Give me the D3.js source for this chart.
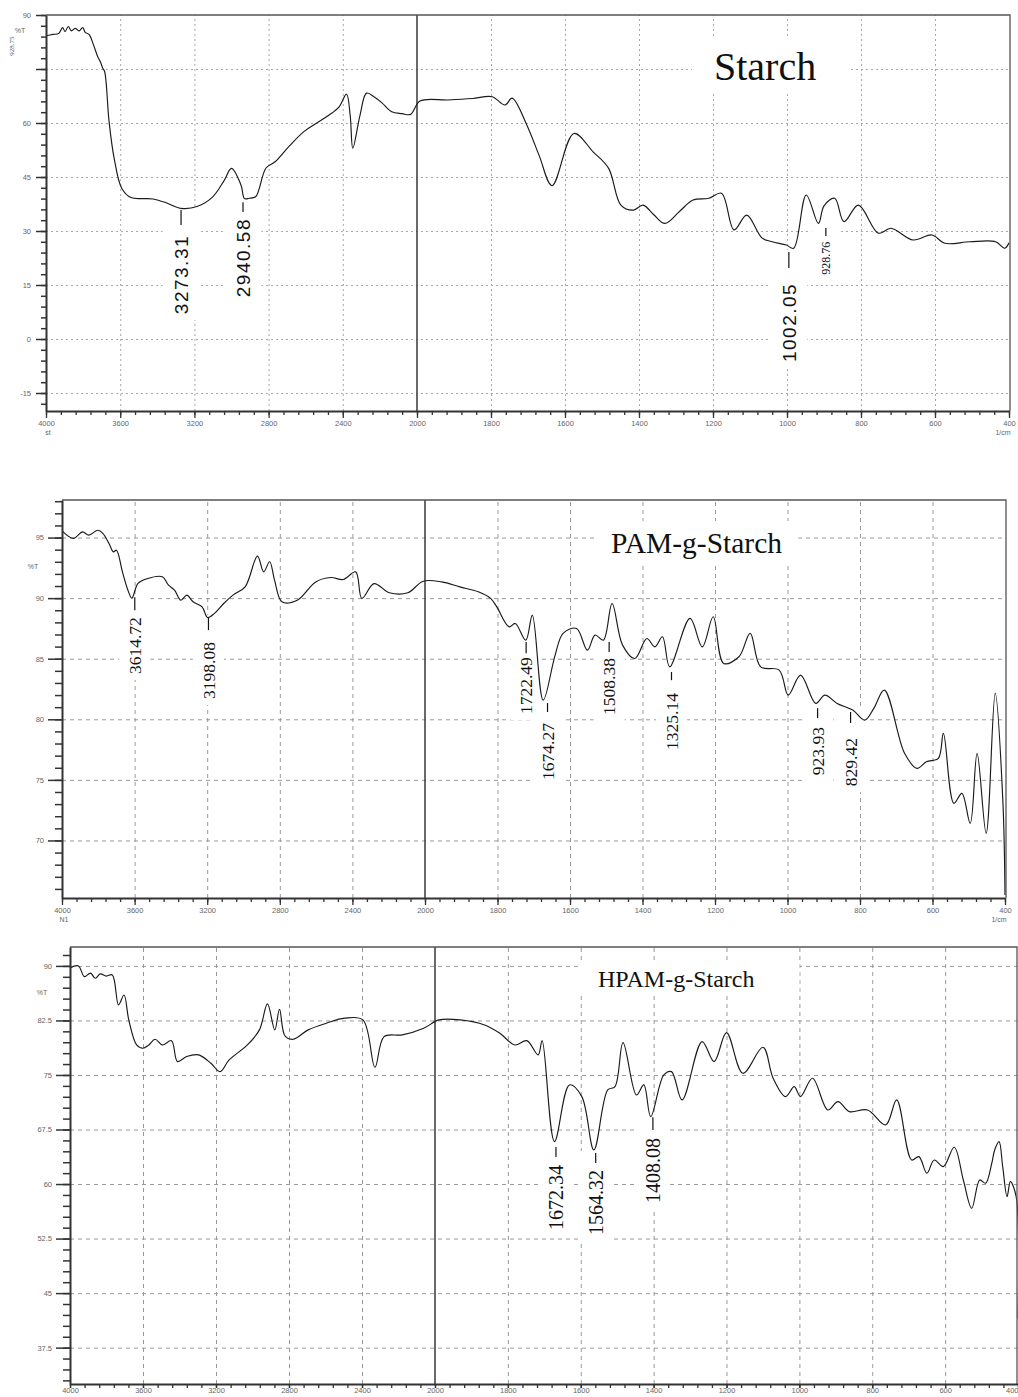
<!DOCTYPE html>
<html><head><meta charset="utf-8">
<script src="https://cdn.jsdelivr.net/npm/d3@7"></script>
<style>body{margin:0;background:#fff}</style>
</head><body><svg id="c" width="1018" height="1397"></svg>
<script>
// ---------------- DATA ----------------
const xTickLabels = [4000,3600,3200,2800,2400,2000,1800,1600,1400,1200,1000,800,600,400];
const starchYTicks = [90,75,60,45,30,15,0,-15];
const starchYTickLabels = ["90","","60","45","30","15","0","-15"];
const pamYTicks = [95,90,85,80,75,70];
const pamYTickLabels = ["95","90","85","80","75","70"];
const hpamYTicks = [90,82.5,75,67.5,60,52.5,45,37.5];
const hpamYTickLabels = ["90","82.5","75","67.5","60","52.5","45","37.5"];
const titles = ["Starch","PAM-g-Starch","HPAM-g-Starch"];

// [wavenumber (1/cm), %T]
const starchSpectrum = [[4000,84.25],[3964,84.6],[3931,84.9],[3911,86.5],[3897,85.4],[3880,86.8],[3863,85.6],[3843,86.3],[3822,85.6],[3802,86.5],[3789,85.2],[3768,84.6],[3744,81.7],[3721,78.4],[3707,77.0],[3694,75.2],[3684,74.3],[3660,60.4],[3633,50.3],[3592,41.9],[3542,39.3],[3480,39.0],[3423,38.9],[3355,37.9],[3273,36.3],[3186,36.8],[3101,39.5],[3040,44.0],[3000,47.4],[2949,42.8],[2930,39.0],[2905,39.1],[2870,39.5],[2814,47.5],[2763,49.3],[2690,53.5],[2610,57.6],[2540,60.0],[2474,62.2],[2420,64.5],[2380,68.0],[2360,62.0],[2346,53.0],[2307,62.2],[2272,68.3],[2230,67.2],[2189,65.6],[2136,63.1],[2080,62.6],[2034,62.4],[1992,66.1],[1916,66.4],[1850,66.8],[1797,67.3],[1762,65.0],[1743,66.9],[1703,59.4],[1670,51.0],[1635,42.6],[1576,57.1],[1524,52.0],[1482,47.4],[1449,37.2],[1415,35.8],[1389,37.2],[1360,34.5],[1330,32.1],[1290,35.5],[1254,38.6],[1211,39.1],[1177,40.5],[1143,30.3],[1109,34.4],[1068,28.1],[1040,27.0],[1002,26.1],[982,25.2],[948,40.0],[915,32.1],[900,37.0],[871,39.1],[846,32.6],[807,37.2],[753,29.4],[719,30.75],[659,27.5],[608,28.9],[574,26.6],[506,27.0],[436,27.0],[412,25.2],[400,26.7]];

const pamSpectrum = [[4000,95.55],[3937,94.93],[3887,95.47],[3853,95.2],[3802,95.6],[3775,95.34],[3741,94.51],[3717,93.82],[3700,93.96],[3667,92.17],[3640,90.8],[3615,90.0],[3582,91.2],[3532,91.6],[3447,91.76],[3413,91.07],[3380,90.66],[3345,89.83],[3312,90.25],[3278,89.7],[3228,89.28],[3198,88.4],[3160,88.74],[3109,89.56],[3058,90.25],[2991,90.93],[2923,93.47],[2889,92.17],[2856,93.0],[2829,91.49],[2788,89.7],[2704,89.83],[2602,91.34],[2518,91.7],[2450,91.54],[2382,92.17],[2348,89.98],[2281,91.2],[2196,90.44],[2095,90.44],[2010,91.4],[1954,91.34],[1904,90.93],[1853,90.52],[1819,89.98],[1802,89.28],[1768,87.63],[1751,87.91],[1722,86.53],[1704,88.6],[1674,81.58],[1641,85.3],[1619,87.09],[1582,87.5],[1552,85.71],[1531,86.95],[1508,86.53],[1484,89.56],[1455,86.12],[1421,85.02],[1388,86.67],[1366,85.98],[1345,86.81],[1325,84.33],[1269,88.33],[1235,85.98],[1205,88.46],[1176,84.61],[1134,85.16],[1103,87.09],[1074,84.33],[1023,84.06],[998,82.0],[964,83.65],[922,81.31],[897,82.0],[863,81.31],[820,80.76],[787,79.93],[762,80.9],[733,82.41],[677,77.19],[643,75.95],[617,76.5],[584,76.77],[570,78.84],[541,73.06],[519,73.89],[496,71.41],[477,77.19],[452,70.59],[427,82.14],[406,73.33],[400,65.5]];

const hpamSpectrum = [[4000,89.7],[3954,90.0],[3921,88.53],[3888,89.0],[3861,88.3],[3834,88.9],[3801,88.6],[3768,88.76],[3734,84.64],[3704,86.0],[3678,82.57],[3635,79.13],[3601,78.68],[3568,79.13],[3534,79.91],[3494,79.13],[3444,79.72],[3411,76.84],[3361,77.53],[3295,77.76],[3228,76.61],[3178,75.46],[3128,77.07],[3028,79.13],[2962,81.2],[2918,84.77],[2878,81.2],[2852,84.04],[2822,80.37],[2778,79.91],[2695,81.2],[2595,82.12],[2495,82.81],[2395,82.57],[2329,76.07],[2279,80.28],[2179,80.51],[2062,81.43],[1989,82.57],[1931,82.57],[1864,81.88],[1822,80.74],[1781,79.13],[1748,79.72],[1717,77.76],[1706,79.72],[1672,65.83],[1631,73.63],[1597,72.02],[1564,64.69],[1526,72.94],[1506,73.4],[1484,79.45],[1447,72.25],[1427,73.63],[1408,69.27],[1372,75.0],[1351,75.46],[1322,71.57],[1267,79.59],[1234,76.84],[1200,80.83],[1155,75.23],[1100,78.81],[1072,74.55],[1038,72.02],[1014,73.4],[997,72.02],[964,74.55],[922,70.19],[894,71.34],[863,69.96],[813,70.19],[763,68.13],[733,71.57],[692,63.31],[672,63.77],[650,61.49],[630,63.31],[605,62.39],[575,65.06],[550,60.56],[527,56.67],[505,60.56],[489,60.11],[472,62.86],[464,64.69],[452,65.83],[442,62.39],[430,58.27],[421,60.33],[405,58.27],[400,41.5]];

// peak labels: [text, wavenumber where drawn, tick start %T, tick end %T, text top %T]
const starchPeaks = [["3273.31",3272,35.8,31.7,28.9],["2940.58",2938,38.0,35.3,33.6],["1002.05",995,24.2,19.7,15.6],["928.76",895,30.8,28.6,27.0]];
const pamPeaks = [["3614.72",3599,90.08,89.0,88.43],["3198.08",3193,88.43,87.36,86.37],["1722.49",1721,86.37,85.46,85.13],["1674.27",1662,81.34,80.6,79.69],["1508.38",1492,86.37,85.55,85.05],["1325.14",1320,83.9,83.23,82.16],["923.93",917,80.92,80.1,79.36],["829.42",826,80.6,79.7,78.45]];
const hpamPeaks = [["1672.34",1668,65.1,63.73,62.63],["1564.32",1559,64.28,62.9,61.94],["1408.08",1402,69.2,67.44,66.34]];

// ---------------- DRAW ----------------
const svg = d3.select("#c");

function minorX(){ const a=[]; for(let v=4000; v>2000; v-=80) a.push(v); for(let v=2000; v>=400; v-=40) a.push(v); return a; }
function minorY(lo,hi,step){ const a=[]; for(let v=Math.ceil(lo/step)*step; v<=hi+1e-9; v+=step) a.push(+v.toFixed(3)); return a; }

function panel(cfg){
  const g = svg.append("g");
  const x = d3.scaleLinear().domain([4000,2000,400]).range([cfg.x0,cfg.xm,cfg.x1]);
  const y = d3.scaleLinear().domain(cfg.yDomain).range([cfg.bottom,cfg.top]);
  const right = cfg.frameRight;

  // horizontal grid
  const hg = g.append("g").attr("transform",`translate(${cfg.x0},0)`)
    .call(d3.axisLeft(y).tickValues(cfg.yTicks.filter(t=>y(t)>cfg.top+2)).tickSize(-(right-cfg.x0)).tickFormat(""));
  hg.select(".domain").remove();
  hg.selectAll("text").remove();
  hg.selectAll("line").attr("stroke",cfg.gridColor).attr("stroke-dasharray",cfg.dash).attr("stroke-width",1);
  // vertical grid
  const vg = g.append("g").attr("transform",`translate(0,${cfg.bottom})`)
    .call(d3.axisBottom(x).tickValues(xTickLabels.filter(t=>t!==4000&&t!==400&&t!==2000)).tickSize(-(cfg.bottom-cfg.top)).tickFormat(""));
  vg.select(".domain").remove();
  vg.selectAll("text").remove();
  vg.selectAll("line").attr("stroke",cfg.gridColor).attr("stroke-dasharray",cfg.dash).attr("stroke-width",1);

  const boxes = g.append("g");
  const lab = g.append("g");

  // title
  const tt = lab.append("text").attr("x",cfg.titleX).attr("y",cfg.titleY)
    .attr("font-family","Liberation Serif, serif").attr("font-size",cfg.titleSize).attr("fill","#111").text(cfg.title);
  const tb = tt.node().getBBox();
  boxes.append("rect").attr("x",tb.x-cfg.titlePad).attr("y",tb.y-6).attr("width",tb.width+cfg.titlePad+cfg.titlePadR).attr("height",tb.height+10).attr("fill","#fff");

  // peak labels
  cfg.peaks.forEach(p=>{
    const [txt,w,t0,t1,tt0] = p;
    const px = x(w);
    const small = txt===cfg.smallLabel;
    const fs = small ? 12 : cfg.labelSize;
    const t = lab.append("text")
      .attr("transform",`translate(${px},${y(tt0)}) rotate(-90)`)
      .attr("text-anchor","end").attr("dy","0.35em")
      .attr("font-family", small ? "Liberation Serif, serif" : cfg.labelFont)
      .attr("letter-spacing", small?0:cfg.labelSpacing)
      .attr("font-size",fs).attr("fill","#111").text(txt);
    const L = t.node().getComputedTextLength();
    boxes.append("rect").attr("x",px-fs*0.55-cfg.boxPad).attr("y",y(t0)-2)
      .attr("width",fs*1.1+2*cfg.boxPad).attr("height",(y(tt0)+L+6)-(y(t0)-2)).attr("fill","#fff");
    lab.append("line").attr("x1",px).attr("x2",px).attr("y1",y(t0)).attr("y2",y(t1))
      .attr("stroke","#111").attr("stroke-width",1.2);
  });

  // 2000 divider
  g.append("line").attr("x1",x(2000)).attr("x2",x(2000)).attr("y1",cfg.top).attr("y2",cfg.bottom)
    .attr("stroke","#444").attr("stroke-width",1.6);

  // spectrum
  g.append("path").datum(cfg.data)
    .attr("d",d3.line().x(d=>x(d[0])).y(d=>y(d[1])).curve(d3.curveCatmullRom.alpha(0.5)))
    .attr("fill","none").attr("stroke","#1a1a1a").attr("stroke-width",1.15).attr("stroke-linejoin","round");

  // frame top/right
  g.append("path").attr("d",`M${cfg.x0},${cfg.top}H${right}V${cfg.bottom}`)
    .attr("fill","none").attr("stroke","#555").attr("stroke-width",1.3);

  // x axis
  const xa = g.append("g").attr("transform",`translate(0,${cfg.bottom})`)
    .call(d3.axisBottom(x).tickValues(xTickLabels).tickSize(cfg.xTick).tickSizeOuter(0).tickPadding(cfg.xPad).tickFormat(d3.format("d")));
  const xm = g.append("g").attr("transform",`translate(0,${cfg.bottom})`)
    .call(d3.axisBottom(x).tickValues(minorX()).tickSize(4).tickSizeOuter(0).tickFormat(""));
  xm.select(".domain").remove();
  xm.selectAll("text").remove();
  [xa,xm].forEach(a=>{ a.selectAll("line").attr("stroke","#333").attr("stroke-width",1.3); });
  xa.select(".domain").attr("stroke","#333").attr("stroke-width",2);
  xa.selectAll("text").attr("font-family","Liberation Sans, Arial, sans-serif").attr("font-size",7.5).attr("fill","#666");
  if(cfg.x1>1012) xa.selectAll("text").filter(d=>d===400).attr("text-anchor","end");

  // y axis
  const ya = g.append("g").attr("transform",`translate(${cfg.x0},0)`)
    .call(d3.axisLeft(y).tickValues(cfg.yTicks).tickSize(cfg.yTick).tickSizeOuter(0).tickPadding(cfg.yPad).tickFormat((d,i)=>cfg.yLabels[i]));
  const ym = g.append("g").attr("transform",`translate(${cfg.x0},0)`)
    .call(d3.axisLeft(y).tickValues(minorY(cfg.yDomain[0],cfg.yDomain[1],cfg.yMinor)).tickSize(cfg.yTick*0.5).tickSizeOuter(0).tickFormat(""));
  ym.select(".domain").remove();
  ym.selectAll("text").remove();
  [ya,ym].forEach(a=>{ a.selectAll("line").attr("stroke","#333").attr("stroke-width",1.5); });
  ya.select(".domain").attr("stroke","#333").attr("stroke-width",2);
  ya.selectAll("text").attr("font-family","Liberation Sans, Arial, sans-serif").attr("font-size",7.5).attr("fill","#666");

  // unit texts
  const put = (tx,xx,yy)=>g.append("text").attr("x",xx).attr("y",yy).attr("text-anchor","middle")
      .attr("font-family","Liberation Sans, Arial, sans-serif").attr("font-size",7).attr("fill","#666").text(tx);
  put("%T",cfg.pctX,cfg.pctY);
  if(cfg.under4000) put(cfg.under4000,cfg.x0+2,cfg.bottom+24);
  if(cfg.under400) put("1/cm",cfg.x1-6,cfg.bottom+24);
  return g;
}

const p1 = panel({x0:46,xm:417,x1:1009,frameRight:1010,top:15,bottom:411,yDomain:[-20,90],
  yTicks:starchYTicks,yLabels:starchYTickLabels,yMinor:3,yTick:10,yPad:5,xTick:7,xPad:3,
  gridColor:"#a8a8a8",dash:"2,3",data:starchSpectrum,peaks:starchPeaks,
  title:titles[0],titleX:714,titleY:80,titleSize:40,titlePad:22,titlePadR:32,
  labelFont:"Liberation Sans, Arial, sans-serif",labelSize:19,labelSpacing:1.5,boxPad:8,smallLabel:"928.76",
  pctX:20,pctY:33,under4000:"st",under400:true});
p1.append("text").attr("transform","translate(12,46) rotate(-90)").attr("text-anchor","middle").attr("dy","0.35em")
  .attr("font-family","Liberation Serif, serif").attr("font-size",7).attr("fill","#555").text("928.75");

panel({x0:62,xm:425,x1:1005,frameRight:1006,top:500,bottom:898,yDomain:[65.25,98.1],
  yTicks:pamYTicks,yLabels:pamYTickLabels,yMinor:1,yTick:14,yPad:4,xTick:7,xPad:3,
  gridColor:"#999",dash:"4,4",data:pamSpectrum,peaks:pamPeaks,
  title:titles[1],titleX:611,titleY:553,titleSize:29.5,titlePad:16,titlePadR:16,
  labelFont:"Liberation Serif, serif",labelSize:17.5,labelSpacing:0,boxPad:6,smallLabel:null,
  pctX:33,pctY:569,under4000:"N1",under400:true});

panel({x0:70,xm:435,x1:1018,frameRight:1017,top:947,bottom:1384,yDomain:[32.5,92.6],
  yTicks:hpamYTicks,yLabels:hpamYTickLabels,yMinor:1.5,yTick:14,yPad:4,xTick:4,xPad:0,
  gridColor:"#999",dash:"4,4",data:hpamSpectrum,peaks:hpamPeaks,
  title:titles[2],titleX:598,titleY:987,titleSize:24,titlePad:19,titlePadR:45,
  labelFont:"Liberation Serif, serif",labelSize:20,labelSpacing:0,boxPad:6,smallLabel:null,
  pctX:42,pctY:995,under4000:null,under400:false});
</script></body></html>
